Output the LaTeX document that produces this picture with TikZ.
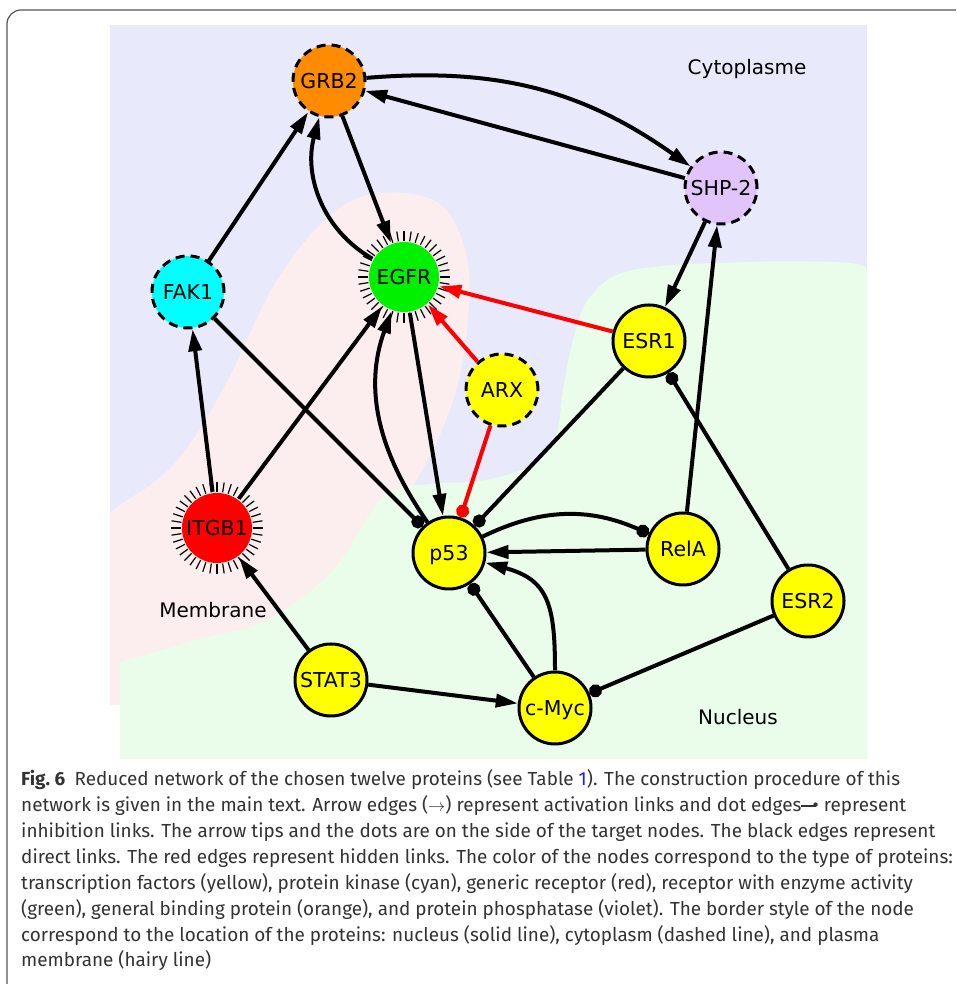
\documentclass[tikz,border=0pt]{standalone}
\usepackage{fontspec}
\setmainfont{Fira Sans}
\newfontfamily\nodefont{DejaVu Sans}
\usetikzlibrary{arrows.meta}
\definecolor{lav}{HTML}{E8EAFC}
\definecolor{pinkbg}{HTML}{FCEEEE}
\definecolor{nucbg}{HTML}{EAFCEA}
\definecolor{nodeyel}{HTML}{FFFF00}
\definecolor{nodecyan}{HTML}{00FFFF}
\definecolor{nodegreen}{HTML}{00F000}
\definecolor{nodered}{HTML}{FF0000}
\definecolor{nodeorange}{HTML}{FF8C00}
\definecolor{nodeviolet}{HTML}{E0C4FA}
\definecolor{captxt}{HTML}{333333}
\definecolor{framec}{HTML}{555555}
\definecolor{linkblue}{HTML}{2020E0}
\newcommand{\inhsym}{\raisebox{0.27em}{\rule{0.75em}{0.07em}}\kern-0.15em\textbullet}
\begin{document}
\begin{tikzpicture}[x=1pt,y=1pt,
  prot/.style={circle, inner sep=0pt, minimum size=72pt,
    font=\nodefont\fontsize{20.5}{24}\selectfont, text height=15pt, text depth=0pt, line width=3pt},
  nucl/.style={prot, draw=black, fill=nodeyel},
  cyto/.style={prot, draw=black, dash pattern=on 9pt off 6pt},
  memb/.style={prot, minimum size=70pt},
  act/.style={line width=4pt, -{Triangle[length=22pt,width=13pt]}},
  inh/.style={line width=4pt, -{Circle[length=13pt]}},
  hid/.style={red},
  hair/.style={line width=1.2pt},
  regionlbl/.style={font=\nodefont\fontsize{20}{24}\selectfont, anchor=base, inner sep=0pt},
  capline/.style={anchor=base west, inner sep=0pt, text=captxt, font=\fontsize{18.9}{22}\selectfont},
]
\useasboundingbox (0,0) rectangle (956,984);
\fill[white] (0,0) rectangle (956,984);
% frame
\draw[framec, line width=1.2pt] (7,0) -- (7,960) arc[start angle=180,end angle=90,radius=14] -- (956,974);
% regions
\fill[lav] (110,279) rectangle (867,959);
\begin{scope}
\clip (110,279) rectangle (867,959);
\fill[pinkbg] plot[smooth cycle, tension=0.6] coordinates {
 (383,791) (440,780) (466,730) (468,664) (452,580) (408,490) (330,390) (200,310) (60,250)
 (60,420) (110,471) (157,504) (190,540) (228,604) (277,704) (333,771)};
\end{scope}
\fill[nucbg] plot[smooth, tension=0.6] coordinates {
 (120,322) (200,345) (267,364) (333,414) (383,487) (430,500) (480,503) (530,518) (555,545)
 (563,594) (573,644) (590,687) (633,714) (750,722) (850,721) (867,712)}
 -- (867,225) -- (120,225) -- cycle;
\node[regionlbl] (lcyto) at (747,909) {Cytoplasme};
\node[regionlbl] (lmemb) at (213,366) {Membrane};
\node[regionlbl] (lnuc) at (738,259) {Nucleus};
% nodes
\node[cyto, fill=nodeorange] (GRB2) at (329,903) {GRB2};
\node[cyto, fill=nodeviolet] (SHP2) at (721,796) {SHP-2};
\node[cyto, fill=nodecyan] (FAK1) at (188,692) {FAK1};
\node[memb, fill=nodegreen] (EGFR) at (404,707) {EGFR};
\node[nucl] (ESR1) at (649,643) {ESR1};
\node[cyto, fill=nodeyel] (ARX) at (502,594) {ARX};
\node[memb, fill=nodered] (ITGB1) at (217,456) {ITGB1};
\node[nucl] (p53) at (449,431) {p53};
\node[nucl] (RelA) at (683,435) {RelA};
\node[nucl] (ESR2) at (808,383) {ESR2};
\node[nucl] (STAT3) at (331,304) {STAT3};
\node[nucl] (cMyc) at (555,276) {c-Myc};
% hairs
\foreach \a in {0,9,...,351} {
  \draw[hair] (EGFR.center) ++(\a:36) -- ++(\a:10);
  \draw[hair] (ITGB1.center) ++(\a:36) -- ++(\a:10);
}
% edges
\draw[act] (GRB2) to[bend left=20] (SHP2);
\draw[act] (SHP2) -- (GRB2);
\draw[act] (FAK1) -- (GRB2);
\draw[act] (EGFR) to[out=150,in=-105] (GRB2);
\draw[act] (GRB2) -- (EGFR);
\draw[act] (SHP2) -- (ESR1);
\draw[act,hid] (ESR1) -- (EGFR);
\draw[act,hid] (ARX) -- (EGFR);
\draw[inh,hid] (ARX) -- (p53);
\draw[inh] (FAK1) -- (p53);
\draw[act] (ITGB1) -- (FAK1);
\draw[act] (ITGB1) -- (EGFR);
\draw[act] (p53) to[out=125,in=-110] (EGFR);
\draw[act] (EGFR) -- (p53);
\draw[inh] (ESR1) -- (p53);
\draw[inh] (p53) to[bend left=25] (RelA);
\draw[act] (RelA) -- (p53);
\draw[act] (RelA) -- (SHP2);
\draw[inh] (ESR2) -- (ESR1);
\draw[inh] (ESR2) -- (cMyc);
\draw[act] (STAT3) -- (ITGB1);
\draw[act] (STAT3) -- (cMyc);
\draw[inh] (cMyc) -- (p53);
\draw[act] (cMyc) to[out=90,in=-15,looseness=1.3] (p53);
% caption
\node[capline] (c1) at (21,198) {{\bfseries Fig.\ 6}\hspace{0.5em}Reduced network of the chosen twelve proteins (see Table \textcolor{linkblue}{1}). The construction procedure of this};
\node[capline] (c2) at (21,172.1) {network is given in the main text. Arrow edges ($\rightarrow$) represent activation links and dot edges\inhsym{} represent};
\node[capline] (c3) at (21,146.3) {inhibition links. The arrow tips and the dots are on the side of the target nodes. The black edges represent};
\node[capline] (c4) at (21,120.4) {direct links. The red edges represent hidden links. The color of the nodes correspond to the type of proteins:};
\node[capline] (c5) at (21,94.6) {transcription factors (yellow), protein kinase (cyan), generic receptor (red), receptor with enzyme activity};
\node[capline] (c6) at (21,68.7) {(green), general binding protein (orange), and protein phosphatase (violet). The border style of the node};
\node[capline] (c7) at (21,42.9) {correspond to the location of the proteins: nucleus (solid line), cytoplasm (dashed line), and plasma};
\node[capline] (c8) at (21,17) {membrane (hairy line)};
\end{tikzpicture}
\end{document}
